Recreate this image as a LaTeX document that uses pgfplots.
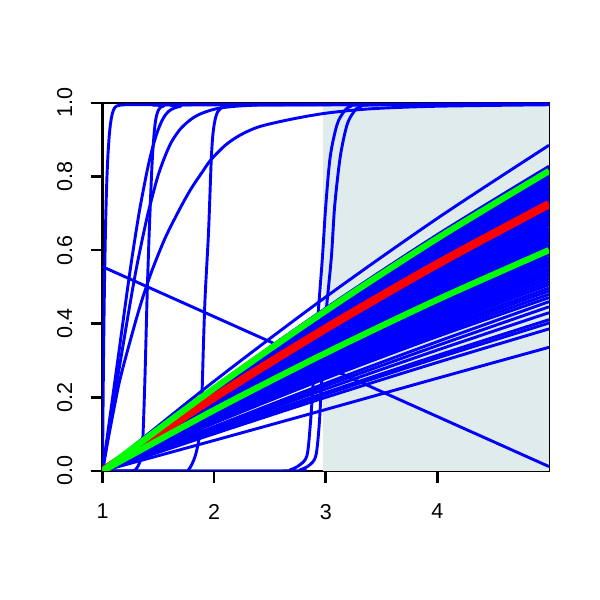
\documentclass[border=0pt]{standalone}
\usepackage{pgfplots}
\pgfplotsset{compat=1.18}
\usepackage{fontspec}
\setmainfont{Liberation Sans}
\definecolor{shade}{RGB}{224,236,236}
\definecolor{rblue}{RGB}{0,0,255}
\definecolor{rgreen}{RGB}{0,255,0}
\definecolor{rred}{RGB}{255,0,0}
\pgfplotsset{
  bl/.style={rblue, line width=2.1pt, no markers, line join=round},
  fan/.style={bl, smooth},
  sig/.style={bl, smooth},
}
\begin{document}
\begin{tikzpicture}
\useasboundingbox (0,0) rectangle (432pt,432pt);
\begin{axis}[
  at={(73.8pt,92.9pt)}, anchor=south west,
  scale only axis, width=321.5pt, height=265pt,
  xmin=1, xmax=5, ymin=0, ymax=1,
  xtick={1,2,3,4}, xticklabels={1,2,3,4},
  ytick={0,0.2,0.4,0.6,0.8,1},
  yticklabels={0.0,0.2,0.4,0.6,0.8,1.0},
  xtick pos=left, ytick pos=left,
  tick align=outside, major tick length=8.6pt,
  tick style={black, line width=1.9pt},
  axis line style={black, line width=1.9pt},
  tick label style={font=\fontsize{15.5}{18}\selectfont},
  xticklabel style={anchor=north, inner sep=0pt},
  yticklabel style={rotate=90, anchor=south, inner sep=0pt},
  xticklabel shift=15pt, yticklabel shift=13pt,
  /pgf/number format/assume math mode=true,
]
% shaded region
\addplot[fill=shade, draw=none] coordinates {(2.975,0) (5,0) (5,1) (2.975,1)} -- cycle;

% fan of curves (values at x = 1,2,3,4,5)
\addplot[fan] coordinates {(1,0)(2,0.2439)(3,0.4727)(4,0.6864)(5,0.885)};
\addplot[fan] coordinates {(1,0)(2,0.2282)(3,0.4422)(4,0.6422)(5,0.828)};
\addplot[fan] coordinates {(1,0)(2,0.2265)(3,0.4390)(4,0.6375)(5,0.822)};
\addplot[fan] coordinates {(1,0)(2,0.2238)(3,0.4337)(4,0.6298)(5,0.812)};
\addplot[fan] coordinates {(1,0)(2,0.2221)(3,0.4305)(4,0.6251)(5,0.806)};
\addplot[fan] coordinates {(1,0)(2,0.2202)(3,0.4267)(4,0.6197)(5,0.799)};
\addplot[fan] coordinates {(1,0)(2,0.2183)(3,0.4230)(4,0.6143)(5,0.792)};
\addplot[fan] coordinates {(1,0)(2,0.2166)(3,0.4198)(4,0.6096)(5,0.786)};
\addplot[fan] coordinates {(1,0)(2,0.2147)(3,0.4161)(4,0.6042)(5,0.779)};
\addplot[fan] coordinates {(1,0)(2,0.2125)(3,0.4118)(4,0.5980)(5,0.771)};
\addplot[fan] coordinates {(1,0)(2,0.2108)(3,0.4086)(4,0.5933)(5,0.765)};
\addplot[fan] coordinates {(1,0)(2,0.2089)(3,0.4048)(4,0.5879)(5,0.758)};
\addplot[fan] coordinates {(1,0)(2,0.2067)(3,0.4006)(4,0.5817)(5,0.750)};
\addplot[fan] coordinates {(1,0)(2,0.2050)(3,0.3974)(4,0.5770)(5,0.744)};
\addplot[fan] coordinates {(1,0)(2,0.2031)(3,0.3936)(4,0.5716)(5,0.737)};
\addplot[fan] coordinates {(1,0)(2,0.2012)(3,0.3899)(4,0.5662)(5,0.730)};
\addplot[fan] coordinates {(1,0)(2,0.1990)(3,0.3856)(4,0.5600)(5,0.722)};
\addplot[fan] coordinates {(1,0)(2,0.1973)(3,0.3824)(4,0.5553)(5,0.716)};
\addplot[fan] coordinates {(1,0)(2,0.1954)(3,0.3787)(4,0.5499)(5,0.709)};
\addplot[fan] coordinates {(1,0)(2,0.1932)(3,0.3744)(4,0.5437)(5,0.701)};
\addplot[fan] coordinates {(1,0)(2,0.1915)(3,0.3712)(4,0.5390)(5,0.695)};
\addplot[fan] coordinates {(1,0)(2,0.1896)(3,0.3675)(4,0.5336)(5,0.688)};
\addplot[fan] coordinates {(1,0)(2,0.1874)(3,0.3632)(4,0.5274)(5,0.680)};
\addplot[fan] coordinates {(1,0)(2,0.1855)(3,0.3594)(4,0.5220)(5,0.673)};
\addplot[fan] coordinates {(1,0)(2,0.1838)(3,0.3562)(4,0.5173)(5,0.667)};
\addplot[fan] coordinates {(1,0)(2,0.1816)(3,0.3520)(4,0.5111)(5,0.659)};
\addplot[fan] coordinates {(1,0)(2,0.1797)(3,0.3482)(4,0.5057)(5,0.652)};
\addplot[fan] coordinates {(1,0)(2,0.1778)(3,0.3445)(4,0.5003)(5,0.645)};
\addplot[fan] coordinates {(1,0)(2,0.1758)(3,0.3408)(4,0.4948)(5,0.638)};
\addplot[fan] coordinates {(1,0)(2,0.1739)(3,0.3370)(4,0.4894)(5,0.631)};
\addplot[fan] coordinates {(1,0)(2,0.1720)(3,0.3333)(4,0.4840)(5,0.624)};
\addplot[fan] coordinates {(1,0)(2,0.1698)(3,0.3290)(4,0.4778)(5,0.616)};
\addplot[fan] coordinates {(1,0)(2,0.1678)(3,0.3253)(4,0.4723)(5,0.609)};
\addplot[fan] coordinates {(1,0)(2,0.1659)(3,0.3215)(4,0.4669)(5,0.602)};
\addplot[fan] coordinates {(1,0)(2,0.1640)(3,0.3178)(4,0.4615)(5,0.595)};
\addplot[fan] coordinates {(1,0)(2,0.1621)(3,0.3141)(4,0.4561)(5,0.588)};
\addplot[fan] coordinates {(1,0)(2,0.1598)(3,0.3098)(4,0.4498)(5,0.580)};
\addplot[fan] coordinates {(1,0)(2,0.1579)(3,0.3060)(4,0.4444)(5,0.573)};
\addplot[fan] coordinates {(1,0)(2,0.1560)(3,0.3023)(4,0.4390)(5,0.566)};
\addplot[fan] coordinates {(1,0)(2,0.1541)(3,0.2986)(4,0.4336)(5,0.559)};
\addplot[fan] coordinates {(1,0)(2,0.1519)(3,0.2943)(4,0.4274)(5,0.551)};
\addplot[fan] coordinates {(1,0)(2,0.1499)(3,0.2906)(4,0.4219)(5,0.544)};
\addplot[fan] coordinates {(1,0)(2,0.1480)(3,0.2868)(4,0.4165)(5,0.537)};
\addplot[fan] coordinates {(1,0)(2,0.1461)(3,0.2831)(4,0.4111)(5,0.530)};
\addplot[fan] coordinates {(1,0)(2,0.1439)(3,0.2788)(4,0.4049)(5,0.522)};
\addplot[fan] coordinates {(1,0)(2,0.1417)(3,0.2745)(4,0.3987)(5,0.514)};
\addplot[fan] coordinates {(1,0)(2,0.1395)(3,0.2703)(4,0.3925)(5,0.506)};
\addplot[fan] coordinates {(1,0)(2,0.1370)(3,0.2654)(4,0.3855)(5,0.497)};
\addplot[fan] coordinates {(1,0)(2,0.1348)(3,0.2612)(4,0.3793)(5,0.489)};
\addplot[fan] coordinates {(1,0)(2,0.1323)(3,0.2564)(4,0.3723)(5,0.480)};
\addplot[fan] coordinates {(1,0)(2,0.1298)(3,0.2516)(4,0.3653)(5,0.471)};
\addplot[fan] coordinates {(1,0)(2,0.1205)(3,0.2383)(4,0.3514)(5,0.460)};
\addplot[fan] coordinates {(1,0)(2,0.1169)(3,0.2310)(4,0.3407)(5,0.446)};
\addplot[fan] coordinates {(1,0)(2,0.1127)(3,0.2227)(4,0.3285)(5,0.430)};
\addplot[fan] coordinates {(1,0)(2,0.1077)(3,0.2129)(4,0.3140)(5,0.411)};
\addplot[fan] coordinates {(1,0)(2,0.1053)(3,0.2082)(4,0.3071)(5,0.402)};
\addplot[fan] coordinates {(1,0)(2,0.1011)(3,0.2000)(4,0.2949)(5,0.386)};
\addplot[fan] coordinates {(1,0)(2,0.0830)(3,0.1670)(4,0.2520)(5,0.336)};

% descending straight line
\addplot[bl] coordinates {(1,0.555)(5,0.012)};

% near-step at x = 1
\addplot[bl] coordinates {(1,0)(1.005,0.18)(1.01,0.33)(1.015,0.45)(1.02,0.55)(1.025,0.63)(1.03,0.70)(1.035,0.755)(1.04,0.80)(1.045,0.835)(1.05,0.865)(1.06,0.91)(1.07,0.94)(1.08,0.96)(1.09,0.973)(1.1,0.982)(1.115,0.989)(1.13,0.992)(1.16,0.994)(1.2,0.995)(5,0.996)};
% concave curves from the origin
\addplot[sig] coordinates {(1,0)(1.05,0.11)(1.1,0.22)(1.15,0.33)(1.206,0.455)(1.25,0.55)(1.29,0.63)(1.33,0.705)(1.37,0.77)(1.41,0.83)(1.45,0.88)(1.49,0.92)(1.53,0.95)(1.57,0.97)(1.62,0.983)(1.7,0.991)(1.85,0.995)(5,0.996)};
\addplot[sig] coordinates {(1,0)(1.05,0.095)(1.1,0.19)(1.15,0.28)(1.2,0.37)(1.25,0.46)(1.3,0.545)(1.35,0.62)(1.4,0.69)(1.45,0.75)(1.5,0.805)(1.56,0.855)(1.62,0.895)(1.7,0.93)(1.8,0.957)(1.9,0.973)(2.05,0.986)(2.3,0.993)(2.7,0.995)(5,0.996)};
\addplot[sig] coordinates {(1,0)(1.05,0.085)(1.1,0.165)(1.15,0.24)(1.2,0.30)(1.3,0.41)(1.37,0.48)(1.45,0.55)(1.56,0.632)(1.68,0.705)(1.79,0.765)(1.9,0.815)(1.97,0.845)(2.1,0.885)(2.23,0.912)(2.4,0.935)(2.68,0.955)(3.0,0.972)(3.4,0.984)(4.0,0.991)(5,0.995)};
% sigmoid near 1.4
\addplot[sig] coordinates {(1,0)(1.25,0)(1.3,0.005)(1.34,0.03)(1.36,0.08)(1.38,0.25)(1.40,0.478)(1.42,0.66)(1.445,0.84)(1.47,0.94)(1.5,0.98)(1.55,0.992)(1.7,0.995)(5,0.996)};
% sigmoid near 1.9
\addplot[sig] coordinates {(1,0)(1.7,0)(1.77,0.003)(1.83,0.04)(1.87,0.1)(1.89,0.2)(1.905,0.35)(1.92,0.478)(1.95,0.65)(1.975,0.85)(1.995,0.93)(2.03,0.975)(2.1,0.99)(2.3,0.995)(5,0.996)};
% sigmoids near 2.9
\addplot[sig] coordinates {(1,0)(2.6,0)(2.68,0.003)(2.76,0.015)(2.83,0.04)(2.86,0.12)(2.89,0.25)(2.93,0.42)(2.97,0.58)(3.0,0.72)(3.04,0.854)(3.1,0.94)(3.16,0.975)(3.22,0.99)(3.4,0.995)(5,0.996)};
\addplot[sig] coordinates {(1,0)(2.7,0)(2.77,0.003)(2.85,0.015)(2.91,0.04)(2.94,0.12)(2.965,0.25)(3.0,0.42)(3.05,0.58)(3.08,0.72)(3.13,0.854)(3.19,0.94)(3.25,0.975)(3.31,0.99)(3.5,0.995)(5,0.996)};

% red and green curves
\addplot[rred, line width=6pt, smooth, no markers] coordinates {(1,0)(2,0.1998)(3,0.3872)(4,0.5623)(5,0.725)};
\addplot[rgreen, line width=4.5pt, smooth, no markers] coordinates {(1,0)(2,0.2246)(3,0.4353)(4,0.6321)(5,0.815)};
\addplot[rgreen, line width=4.5pt, smooth, no markers] coordinates {(1,0)(2,0.1654)(3,0.3205)(4,0.4654)(5,0.600)};
\end{axis}
\end{tikzpicture}
\end{document}
